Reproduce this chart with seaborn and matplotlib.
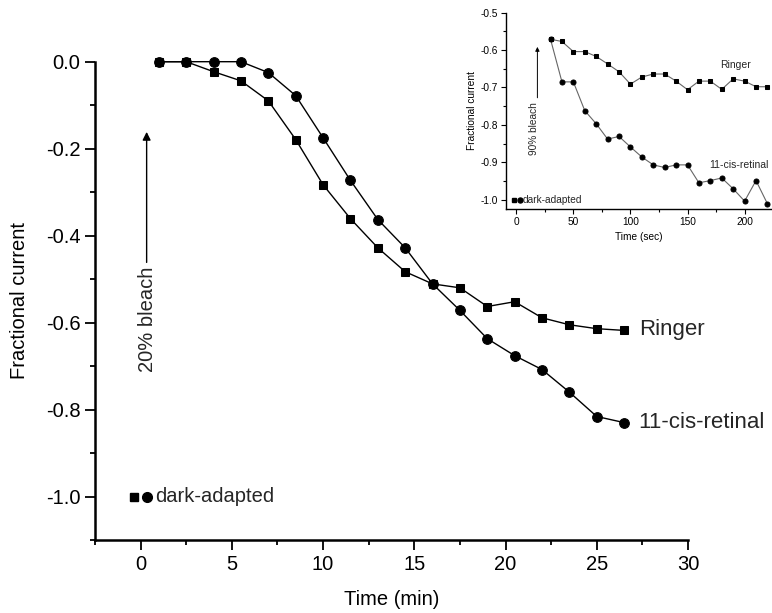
import numpy as np
import pandas as pd
import matplotlib
matplotlib.use("Agg")
import matplotlib.pyplot as plt
import seaborn as sns
from matplotlib.ticker import MultipleLocator

sns.set_theme(style="ticks")
plt.rcParams['font.family'] = ['Liberation Sans', 'DejaVu Sans']

# ---- main panel data (time in min, fractional current) ----
time_min = [1.0, 2.5, 4.0, 5.5, 7.0, 8.5, 10.0, 11.5, 13.0, 14.5, 16.0,
            17.5, 19.0, 20.5, 22.0, 23.5, 25.0, 26.5]
ringer_main = [0.0, 0.0, -0.023, -0.044, -0.09, -0.179, -0.283, -0.361, -0.428,
               -0.483, -0.511, -0.520, -0.563, -0.552, -0.589, -0.605, -0.614, -0.618]
retinal_main = [0.0, 0.0, 0.0, 0.0, -0.025, -0.078, -0.175, -0.273, -0.363,
                -0.428, -0.511, -0.572, -0.637, -0.676, -0.708, -0.760, -0.816, -0.830]

# ---- inset data (time in sec) ----
time_sec = [30, 40, 50, 60, 70, 80, 90, 100, 110, 120, 130, 140, 150, 160,
            170, 180, 190, 200, 210, 220]
ringer_inset = [-0.571, -0.577, -0.604, -0.604, -0.617, -0.637, -0.658, -0.691,
                -0.672, -0.664, -0.664, -0.683, -0.706, -0.683, -0.683, -0.705,
                -0.677, -0.683, -0.698, -0.698]
retinal_inset = [-0.571, -0.685, -0.685, -0.762, -0.797, -0.838, -0.831, -0.859,
                 -0.886, -0.907, -0.914, -0.907, -0.907, -0.955, -0.949, -0.942,
                 -0.971, -1.004, -0.949, -1.011]

main_xticks = [0, 5, 10, 15, 20, 25, 30]
main_yticks = [0.0, -0.2, -0.4, -0.6, -0.8, -1.0]
inset_xticks = [0, 50, 100, 150, 200]
inset_yticks = [-0.5, -0.6, -0.7, -0.8, -0.9, -1.0]

fig = plt.figure(figsize=(7.72, 6.13), dpi=100)
ax = fig.add_axes([95/772, 1-540/613, (688-95)/772, (540-61.7)/613])

df_r = pd.DataFrame({"t": time_min, "v": ringer_main})
df_c = pd.DataFrame({"t": time_min, "v": retinal_main})
sns.lineplot(data=df_c, x="t", y="v", ax=ax, color="black", lw=1.0,
             marker="o", markersize=7, markeredgecolor="black", clip_on=False)
sns.lineplot(data=df_r, x="t", y="v", ax=ax, color="black", lw=1.0,
             marker="s", markersize=6, markeredgecolor="black", clip_on=False)

ax.set_xlim(-2.5, 30)
ax.set_ylim(-1.1, 0.0)
ax.set_xticks(main_xticks)
ax.set_yticks(main_yticks)
ax.set_yticklabels([f"{v:.1f}" for v in main_yticks])
ax.xaxis.set_minor_locator(MultipleLocator(2.5))
ax.yaxis.set_minor_locator(MultipleLocator(0.1))
ax.tick_params(which="major", direction="out", length=7, width=1.3, labelsize=14.5, color="black", labelcolor="black")
ax.tick_params(which="minor", direction="out", length=3.5, width=1.3, color="black")
for s in ["top", "right"]:
    ax.spines[s].set_visible(False)
for s in ["left", "bottom"]:
    ax.spines[s].set_linewidth(1.8)
    ax.spines[s].set_color("black")
ax.set_xlabel("Time (min)", fontsize=14.5, labelpad=12, color="black")
ax.set_ylabel("Fractional current", fontsize=14.5, labelpad=12, color="black")
ax.patch.set_alpha(0)

ax.text(27.3, -0.616, "Ringer", fontsize=16, va="center", ha="left")
ax.text(27.3, -0.830, "11-cis-retinal", fontsize=16, va="center", ha="left")
ax.text(0.38, -0.592, "20% bleach", fontsize=14.5, rotation=90, va="center", ha="center")
ax.annotate("", xy=(0.33, -0.155), xytext=(0.33, -0.468),
            arrowprops=dict(arrowstyle="-|>", color="black", lw=1.0, mutation_scale=12))
ax.plot([-0.34], [-1.0], marker="s", markersize=6, color="black", clip_on=False)
ax.plot([0.36], [-1.0], marker="o", markersize=7, color="black", clip_on=False)
ax.text(0.82, -1.0, "dark-adapted", fontsize=14.5, va="center", ha="left")

# ---- inset ----
ax2 = fig.add_axes([506/772, 1-209/613, (772-506)/772, (209-12.7)/613])
df_ir = pd.DataFrame({"t": time_sec, "v": ringer_inset})
df_ic = pd.DataFrame({"t": time_sec, "v": retinal_inset})
sns.lineplot(data=df_ic, x="t", y="v", ax=ax2, color="#666666", lw=0.8,
             marker="o", markersize=3.6, markerfacecolor="black", markeredgecolor="black", clip_on=False)
sns.lineplot(data=df_ir, x="t", y="v", ax=ax2, color="#666666", lw=0.8,
             marker="s", markersize=3.2, markerfacecolor="black", markeredgecolor="black", clip_on=False)
ax2.set_xlim(-9, 224)
ax2.set_ylim(-1.025, -0.5)
ax2.set_xticks(inset_xticks)
ax2.set_yticks(inset_yticks)
ax2.set_yticklabels([f"{v:.1f}" for v in inset_yticks])
ax2.xaxis.set_minor_locator(MultipleLocator(25))
ax2.yaxis.set_minor_locator(MultipleLocator(0.05))
ax2.tick_params(which="major", direction="out", length=3.5, width=0.8, labelsize=7.3, pad=2, color="black", labelcolor="black")
ax2.tick_params(which="minor", direction="out", length=2, width=0.8, color="black")
for s in ["top", "right"]:
    ax2.spines[s].set_visible(False)
for s in ["left", "bottom"]:
    ax2.spines[s].set_linewidth(1.0)
    ax2.spines[s].set_color("black")
ax2.set_xlabel("Time (sec)", fontsize=7.3, labelpad=4, color="black")
ax2.set_ylabel("Fractional current", fontsize=7.3, labelpad=3, color="black")
ax2.patch.set_alpha(0)
ax2.text(192, -0.640, "Ringer", fontsize=7.5, va="center", ha="center")
ax2.text(195, -0.908, "11-cis-retinal", fontsize=7.5, va="center", ha="center")
ax2.text(15.5, -0.81, "90% bleach", fontsize=7.3, rotation=90, va="center", ha="center")
ax2.annotate("", xy=(18.5, -0.584), xytext=(18.5, -0.735),
             arrowprops=dict(arrowstyle="-|>", color="black", lw=0.7, mutation_scale=6))
ax2.plot([-2], [-1.0], marker="s", markersize=3.2, color="black", clip_on=False)
ax2.plot([3], [-1.0], marker="o", markersize=3.6, color="black", clip_on=False)
ax2.text(5.5, -1.0, "dark-adapted", fontsize=7.3, va="center", ha="left")

fig.savefig("out.png", dpi=100)
